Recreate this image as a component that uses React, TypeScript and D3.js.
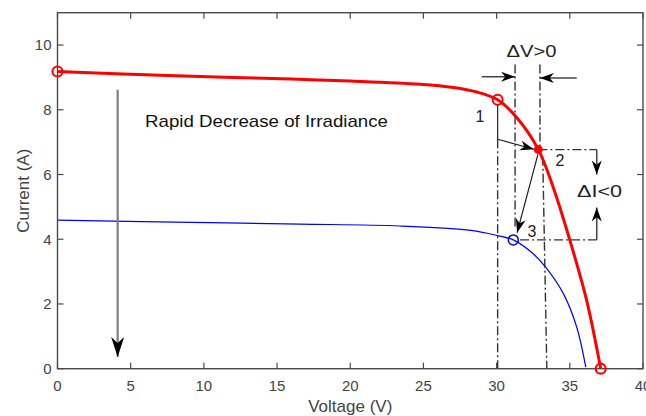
import React from 'react';
import * as d3 from 'd3';

const W = 646;
const H = 416;

const xTicks = [0, 5, 10, 15, 20, 25, 30, 35, 40];
const yTicks = [0, 2, 4, 6, 8, 10];

// High irradiance I-V curve (red)
const redV = [0, 7, 12, 16, 20, 24.77, 27.04, 28.64, 30.07, 31.37, 32.85, 33.87, 35.01, 36.15, 37.11];
const redI = [9.18, 9.07, 9.0, 8.95, 8.89, 8.79, 8.69, 8.55, 8.31, 7.76, 6.77, 5.6, 3.96, 2.11, 0];

// Low irradiance I-V curve (blue)
const blueV = [0, 8, 16.57, 23.4, 28.1, 30.0, 31.14, 32.5, 33.36, 34.56, 35.47, 36.09];
const blueI = [4.59, 4.53, 4.47, 4.41, 4.28, 4.12, 3.98, 3.55, 3.13, 2.32, 1.29, 0.05];

// Operating points
const p0 = [0, 9.18];
const p1 = [30.07, 8.31];
const p2 = [32.85, 6.77];
const p3 = [31.14, 3.98];
const pVoc = [37.11, 0];

const pointLabels = ['1', '2', '3'];

export default function App() {
  const x = d3.scaleLinear().domain([0, 40]).range([57.5, 643]);
  const y = d3.scaleLinear().domain([0, 11]).range([368.7, 12.7]);

  const redPath = d3
    .line<[number, number]>()
    .x((d) => x(d[0]))
    .y((d) => y(d[1]))
    .curve(d3.curveCatmullRom.alpha(0.5))(redV.map((v, i) => [v, redI[i]] as [number, number]));
  const bluePath = d3
    .line<[number, number]>()
    .x((d) => x(d[0]))
    .y((d) => y(d[1]))
    .curve(d3.curveCatmullRom.alpha(0.5))(blueV.map((v, i) => [v, blueI[i]] as [number, number]));

  const dashDot = '9,3,2,3';
  const annColor = '#333333';
  const font = 'Liberation Sans, Arial, Helvetica, sans-serif';

  const head = (fx: number, fy: number, tx: number, ty: number, L = 14, Wd = 10, fill = '#000') => {
    const ang = Math.atan2(ty - fy, tx - fx);
    const deg = (ang * 180) / Math.PI;
    return (
      <path
        d={`M0,0 L${-L},${-Wd / 2} L${-L * 0.7},0 L${-L},${Wd / 2} Z`}
        transform={`translate(${tx},${ty}) rotate(${deg})`}
        fill={fill}
      />
    );
  };

  const arrow = (v1: number, i1: number, v2: number, i2: number, color = annColor, sw = 1.3, L = 14, Wd = 10) => {
    const fx = x(v1), fy = y(i1), tx = x(v2), ty = y(i2);
    return (
      <g>
        <line x1={fx} y1={fy} x2={tx} y2={ty} stroke={color} strokeWidth={sw} />
        {head(fx, fy, tx, ty, L, Wd)}
      </g>
    );
  };

  const xL = x(0), xR = x(40), yB = y(0), yT = y(11);
  const axisColor = '#4a4a4a';

  return (
    <div style={{ position: 'absolute', left: 0, top: 0 }}>
      <svg width={W} height={H} style={{ display: 'block', background: '#fff' }} fontFamily={font}>
        <rect x={0} y={0} width={W} height={H} fill="#fff" />

        {xTicks.map((t) => (
          <g key={'xt' + t}>
            <line x1={x(t)} x2={x(t)} y1={yB} y2={yB - 6} stroke={axisColor} strokeWidth={1.2} />
            <line x1={x(t)} x2={x(t)} y1={yT} y2={yT + 6} stroke={axisColor} strokeWidth={1.2} />
            <text x={x(t)} y={391} textAnchor="middle" fontSize={15} fill="#444">
              {t}
            </text>
          </g>
        ))}
        {yTicks.map((t) => (
          <g key={'yt' + t}>
            <line x1={xL} x2={xL + 6} y1={y(t)} y2={y(t)} stroke={axisColor} strokeWidth={1.2} />
            <line x1={xR} x2={xR - 6} y1={y(t)} y2={y(t)} stroke={axisColor} strokeWidth={1.2} />
            <text x={xL - 6} y={y(t) + 5.3} textAnchor="end" fontSize={15} fill="#444">
              {t}
            </text>
          </g>
        ))}

        <text x={(xL + xR) / 2} y={412} textAnchor="middle" fontSize={17} fill="#444">
          Voltage (V)
        </text>
        <text
          transform={`translate(28.5,${(yT + yB) / 2}) rotate(-90)`}
          textAnchor="middle"
          fontSize={17}
          fill="#444"
        >
          Current (A)
        </text>

        <line x1={x(p1[0])} x2={x(p1[0])} y1={y(7.09)} y2={yB} stroke={annColor} strokeWidth={1.4} strokeDasharray={dashDot} />
        <line x1={x(31.26)} x2={x(31.26)} y1={y(9.4)} y2={y(4.3)} stroke={annColor} strokeWidth={1.4} strokeDasharray={dashDot} />
        <line x1={x(32.96)} x2={x(32.96)} y1={y(9.4)} y2={y(p2[1])} stroke={annColor} strokeWidth={1.4} strokeDasharray={dashDot} />
        <line x1={x(33.15)} x2={x(33.43)} y1={y(6.55)} y2={yB} stroke={annColor} strokeWidth={1.4} strokeDasharray={dashDot} />
        <line x1={x(p2[0])} x2={x(36.84)} y1={y(p2[1])} y2={y(p2[1])} stroke={annColor} strokeWidth={1.4} strokeDasharray={dashDot} />
        <line x1={x(31.6)} x2={x(36.84)} y1={y(p3[1])} y2={y(p3[1])} stroke={annColor} strokeWidth={1.4} strokeDasharray={dashDot} />

        <path d={bluePath || ''} fill="none" stroke="#0000ff" strokeWidth={1.2} />
        <path d={redPath || ''} fill="none" stroke="#ff0000" strokeWidth={3} />

        <rect x={xL} y={yT} width={xR - xL} height={yB - yT} fill="none" stroke={axisColor} strokeWidth={1.4} />

        <circle cx={x(p0[0])} cy={y(p0[1])} r={5} fill="none" stroke="#ff0000" strokeWidth={2} />
        <circle cx={x(p1[0])} cy={y(p1[1])} r={5} fill="none" stroke="#ff0000" strokeWidth={2} />
        <circle cx={x(p2[0])} cy={y(p2[1])} r={4} fill="#ff0000" stroke="#ff0000" strokeWidth={1} />
        <circle cx={x(p3[0])} cy={y(p3[1])} r={5} fill="none" stroke="#0000ff" strokeWidth={1.5} />
        <circle cx={x(pVoc[0])} cy={y(pVoc[1])} r={5} fill="none" stroke="#ff0000" strokeWidth={2.2} />

        <line x1={x(p1[0])} x2={x(p1[0])} y1={y(p1[1]) + 5} y2={y(7.09)} stroke="#222" strokeWidth={1.2} />
        {arrow(p1[0], 7.09, 32.55, 6.78, '#222', 1.2)}
        {arrow(32.82, 6.62, 31.4, 4.2, '#222', 1.2)}

        {arrow(28.98, 9.02, 31.26, 9.02, '#444', 1.5)}
        {arrow(35.47, 8.98, 32.96, 8.98, '#444', 1.5)}

        {arrow(36.84, p2[1], 36.84, 6.0, '#444', 1.5)}
        {arrow(36.84, p3[1], 36.84, 4.98, '#444', 1.5)}

        {arrow(4.11, 8.62, 4.11, 0.36, '#808080', 2.2, 20, 13)}

        <text x={145} y={127} fontSize={17} fill="#111" textLength={243} lengthAdjust="spacingAndGlyphs">
          Rapid Decrease of Irradiance
        </text>
        <text x={506.5} y={57} fontSize={17} fill="#222" textLength={50} lengthAdjust="spacingAndGlyphs">
          ΔV&gt;0
        </text>
        <text x={577} y={197} fontSize={17} fill="#222" textLength={45} lengthAdjust="spacingAndGlyphs">
          ΔI&lt;0
        </text>
        <text x={480} y={122} textAnchor="middle" fontSize={16} fill="#222">
          {pointLabels[0]}
        </text>
        <text x={560} y={166} textAnchor="middle" fontSize={16} fill="#222">
          {pointLabels[1]}
        </text>
        <text x={532} y={237} textAnchor="middle" fontSize={16} fill="#222">
          {pointLabels[2]}
        </text>
      </svg>
    </div>
  );
}
